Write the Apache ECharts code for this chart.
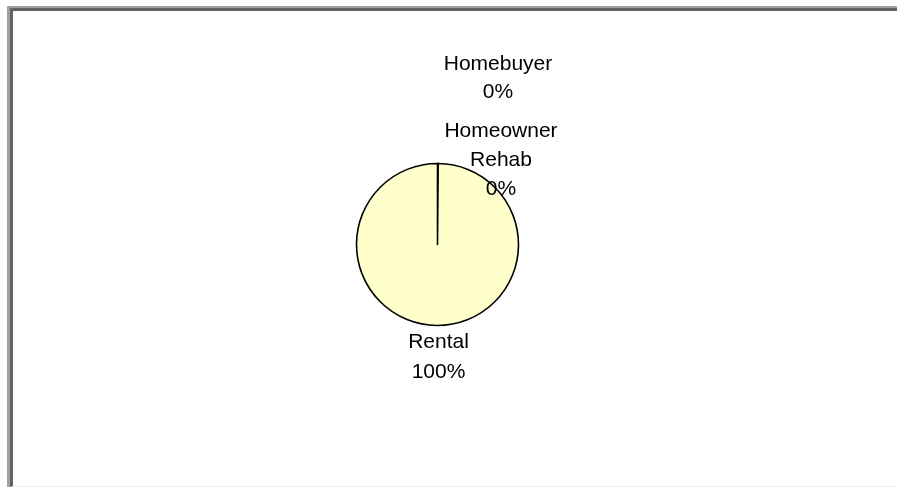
<!DOCTYPE html>
<html>
<head>
<meta charset="utf-8">
<script src="https://cdn.jsdelivr.net/npm/echarts@6/dist/echarts.min.js"></script>
<style>
  html, body { margin: 0; padding: 0; background: #ffffff; width: 897px; height: 487px; overflow: hidden; }
  #frameOuter { position: absolute; left: 7px; top: 6px; width: 890px; height: 481px; box-sizing: border-box;
    border-left: 3px solid #a0a0a0; border-top: 2px solid #a0a0a0; }
  #frameInner { position: absolute; left: 0; top: 0; right: 0; bottom: 0; box-sizing: border-box;
    border-left: 3px solid #636363; border-top: 3px solid #636363; border-bottom: 1px solid #ececec; }
  #chart { position: absolute; left: 0; top: 0; width: 897px; height: 487px; }
</style>
</head>
<body>
<div id="frameOuter"><div id="frameInner"></div></div>
<div id="chart"></div>
<script>
// ---- data ----
const categories = ['Homebuyer', 'Homeowner Rehab', 'Rental'];
const values = [0, 0, 100];

// ---- label placement (layout, not data) ----
const labelPos = [[498, 78], [501, 160], [438.5, 357]];
const labelLineHeight = [28, 29, 30];

const chart = echarts.init(document.getElementById('chart'), null, { renderer: 'canvas' });

const seriesData = categories.map((name, i) => ({
  name: name,
  value: values[i],
  label: { lineHeight: labelLineHeight[i] }
}));

chart.setOption({
  animation: false,
  backgroundColor: 'transparent',
  series: [{
    type: 'pie',
    center: [437.5, 244.5],
    radius: 81,
    startAngle: 90,
    clockwise: true,
    minAngle: 0.25,
    avoidLabelOverlap: false,
    itemStyle: { color: '#FFFFCC', borderColor: '#000000', borderWidth: 1.6 },
    emphasis: { disabled: true },
    label: {
      show: true,
      position: 'outside',
      color: '#000000',
      fontFamily: 'Liberation Sans, Arial, sans-serif',
      fontSize: 21,
      align: 'center',
      formatter: function (p) {
        return p.name.split(' ').join('\n') + '\n' + Math.round(p.percent) + '%';
      }
    },
    labelLine: { show: false },
    labelLayout: function (params) {
      const p = labelPos[params.dataIndex];
      return { x: p[0], y: p[1], align: 'center', verticalAlign: 'middle', hideOverlap: false, moveOverlap: false };
    },
    data: seriesData
  }]
});
</script>
</body>
</html>
